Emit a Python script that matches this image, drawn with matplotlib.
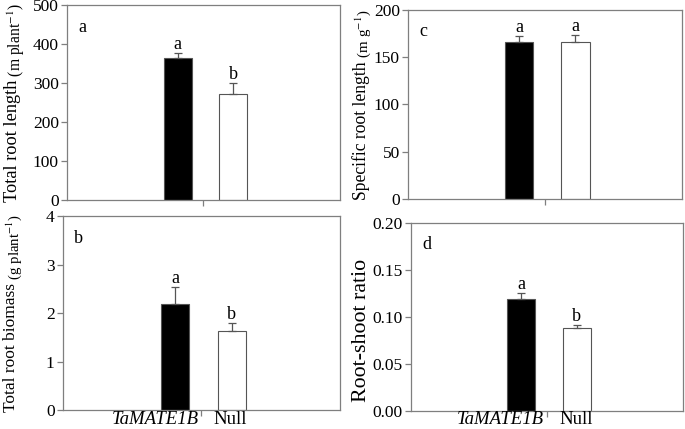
import matplotlib.pyplot as plt

plt.rcParams['font.family'] = ['Liberation Serif', 'DejaVu Serif']
plt.rcParams['mathtext.fontset'] = 'stix'

groups = ['TaMATE1B', 'Null']

trl_mean = [364, 272]
trl_err = [13, 28]
trl_sig = ['a', 'b']

trb_mean = [2.19, 1.64]
trb_err = [0.34, 0.15]
trb_sig = ['a', 'b']

srl_mean = [166.5, 166.5]
srl_err = [5.5, 6.5]
srl_sig = ['a', 'a']

rsr_mean = [0.119, 0.088]
rsr_err = [0.007, 0.0035]
rsr_sig = ['a', 'b']

W, H = 685, 429
fig = plt.figure(figsize=(6.85, 4.29), dpi=100)
ax_a = fig.add_axes([0.098, 0.534, 0.398, 0.454])
ax_c = fig.add_axes([0.596, 0.536, 0.400, 0.441])
ax_b = fig.add_axes([0.092, 0.044, 0.404, 0.452])
ax_d = fig.add_axes([0.600, 0.042, 0.397, 0.438])

panels = [
    (ax_a, trl_mean, trl_err, trl_sig, 'a', (0, 500), 100, '{:.0f}'),
    (ax_c, srl_mean, srl_err, srl_sig, 'c', (0, 200), 50, '{:.0f}'),
    (ax_b, trb_mean, trb_err, trb_sig, 'b', (0, 4), 1, '{:.0f}'),
    (ax_d, rsr_mean, rsr_err, rsr_sig, 'd', (0, 0.2), 0.05, '{:.2f}'),
]

xpos = [0.405, 0.61]
spine_col = '#7f7f7f'

for ax, mean, err, sig, tag, ylim, step, fmt in panels:
    ax.bar(xpos, mean, width=0.103, color=['black', 'white'], edgecolor='#555555', linewidth=0.8)
    ax.errorbar(xpos, mean, yerr=[[0, 0], err], fmt='none', ecolor='#555555',
                elinewidth=0.9, capsize=3, capthick=0.9)
    span = ylim[1] - ylim[0]
    for x, m, e, s in zip(xpos, mean, err, sig):
        ax.text(x, m + e, s, ha='center', va='bottom', fontsize=13)
    ax.set_xlim(0, 1)
    ax.set_ylim(*ylim)
    ticks = [ylim[0] + i * step for i in range(int(round(span / step)) + 1)]
    ax.set_yticks(ticks)
    ax.set_yticklabels([fmt.format(t) for t in ticks], fontsize=12.5)
    ax.set_xticks([0.5])
    ax.set_xticklabels([''])
    ax.tick_params(direction='out', length=4, color=spine_col, width=0.9, pad=2)
    for sp in ax.spines.values():
        sp.set_color(spine_col)
        sp.set_linewidth(0.9)
    ax.text(0.04, 0.93, tag, transform=ax.transAxes, fontsize=13, va='top', ha='left')

for ax in (ax_b, ax_d):
    ax.text(0.49, -0.07, groups[0], transform=ax.transAxes, ha='right', va='baseline',
            fontsize=13.5, style='italic')
    ax.text(0.545, -0.07, groups[1], transform=ax.transAxes, ha='left', va='baseline',
            fontsize=13.5)

# y labels: main part plus smaller units, fitted to the span they cover
ylabels = [
    ('Total root length', ' (m plant$^{-1}$)', 4, 202, 3),
    ('Specific root length', ' (m g$^{-1}$)', 352, 200, 10),
    ('Total root biomass', ' (g plant$^{-1}$)', 3, 412, 215),
    ('Root-shoot ratio', '', 352, 402, 258),
]
r = fig.canvas.get_renderer()
for main, unit, x, yb, yt in ylabels:
    t1 = fig.text(x / W, (H - yb) / H, main, fontsize=10, rotation=90, ha='left', va='bottom')
    t2 = fig.text(x / W, (H - yb) / H, unit, fontsize=8.5, rotation=90, ha='left', va='bottom')
    h = t1.get_window_extent(r).height + (t2.get_window_extent(r).height if unit else 0)
    k = (yb - yt) / h
    t1.set_fontsize(10 * k)
    t2.set_fontsize(8.5 * k)
    h1 = t1.get_window_extent(r).height
    t2.set_position(((x + 0.1 * 10 * k) / W, (H - yb + h1) / H))

fig.savefig('out.png', dpi=100)
